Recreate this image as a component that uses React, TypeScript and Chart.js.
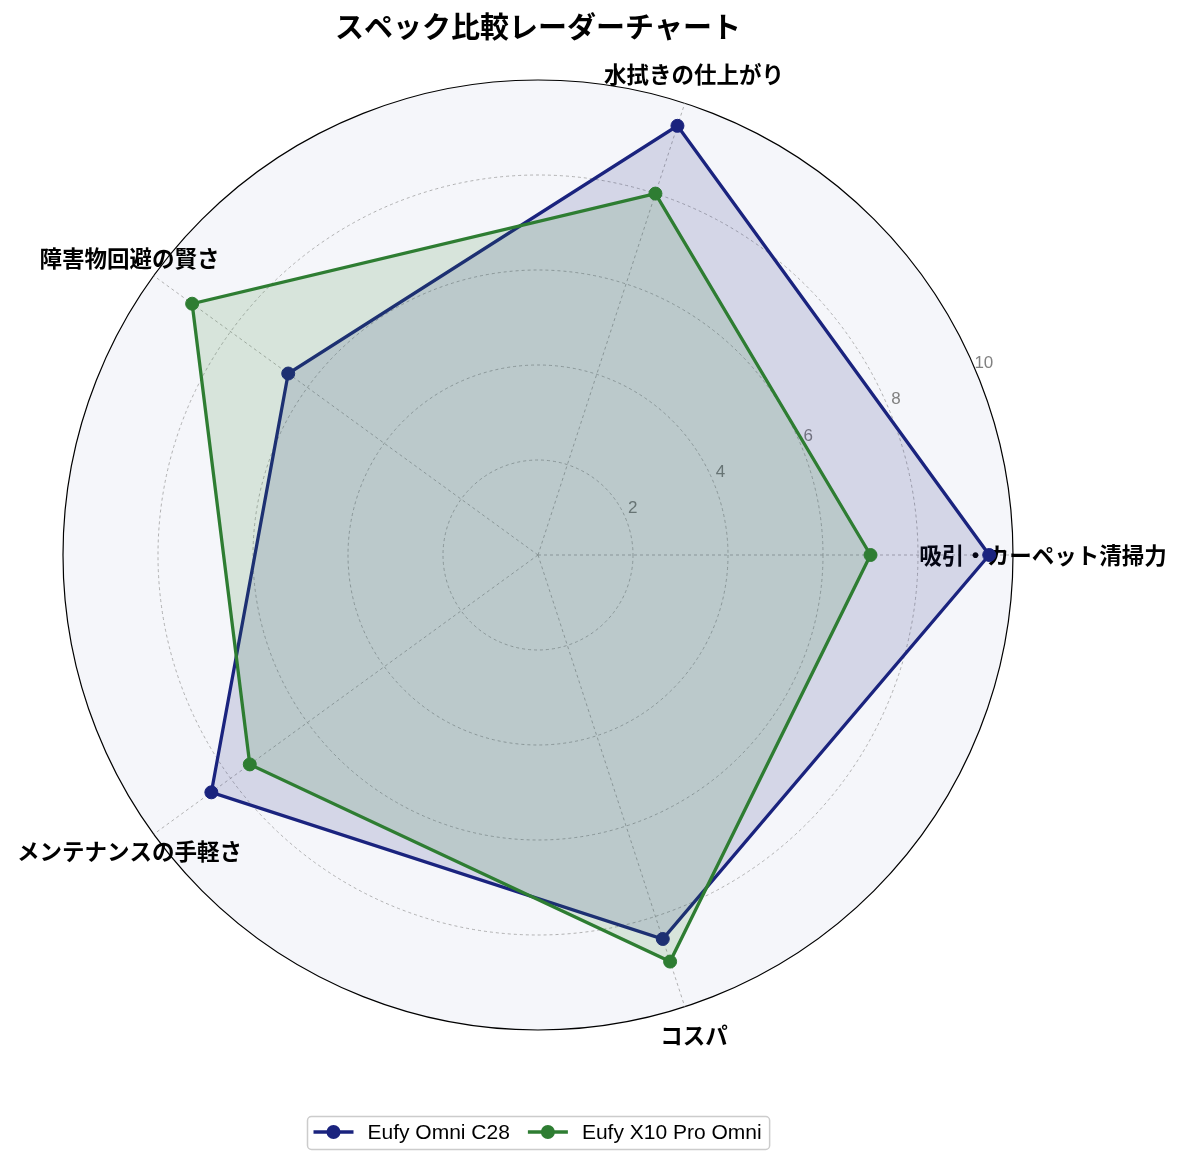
import React, { useEffect, useRef } from "react";
import { Chart, registerables } from "chart.js";

Chart.register(...registerables);

const TITLE = "スペック比較レーダーチャート";
// Categories in counter-clockwise order starting from the right (0°)
const categories = [
  "吸引・カーペット清掃力",
  "水拭きの仕上がり",
  "障害物回避の賢さ",
  "メンテナンスの手軽さ",
  "コスパ",
];
const seriesNames = ["Eufy Omni C28", "Eufy X10 Pro Omni"];
const c28Values = [9.5, 9.5, 6.5, 8.5, 8.5];
const x10Values = [7.0, 8.0, 9.0, 7.5, 9.0];
const seriesColors = ["#1a237e", "#2e7d32"];
const seriesFills = ["rgba(26,35,126,0.15)", "rgba(46,125,50,0.15)"];
const tickValues = [2, 4, 6, 8, 10];

const JP_FONT = '"Noto Sans CJK JP", "Noto Sans", sans-serif';
const LATIN_FONT = '"Liberation Sans", Arial, "Noto Sans CJK JP", sans-serif';

// Chart.js radar goes clockwise; reorder so visual order is counter-clockwise
const order = [0, 4, 3, 2, 1];
const reorder = <T,>(arr: T[]) => order.map((i) => arr[i]);

const decorPlugin = {
  id: "decor",
  beforeDraw(chart: any) {
    const s = chart.scales.r;
    const ctx = chart.ctx;
    ctx.save();
    ctx.fillStyle = "#ffffff";
    ctx.fillRect(0, 0, chart.width, chart.height);
    ctx.beginPath();
    ctx.arc(s.xCenter, s.yCenter, s.drawingArea, 0, Math.PI * 2);
    ctx.fillStyle = "#f5f6fa";
    ctx.fill();
    ctx.restore();
  },
  beforeDatasetsDraw(chart: any) {
    const s = chart.scales.r;
    const ctx = chart.ctx;
    ctx.save();
    // radial tick labels at 22.5°
    ctx.font = `17px ${LATIN_FONT}`;
    ctx.fillStyle = "#808080";
    ctx.textAlign = "center";
    ctx.textBaseline = "middle";
    const a = (22.5 * Math.PI) / 180;
    tickValues.forEach((v) => {
      const r = s.getDistanceFromCenterForValue(v);
      const x = s.xCenter + r * Math.cos(a) + 7;
      const y = s.yCenter - r * Math.sin(a) - 10;
      ctx.fillText(String(v), x, y);
    });
    // category labels
    ctx.font = `bold 22.5px ${JP_FONT}`;
    ctx.fillStyle = "#000000";
    const labels = chart.data.labels as string[];
    labels.forEach((lab, i) => {
      const p = s.getPointPosition(i, s.drawingArea + 30);
      ctx.fillText(lab, p.x, p.y);
    });
    ctx.restore();
  },
  afterDraw(chart: any) {
    const s = chart.scales.r;
    const ctx = chart.ctx;
    ctx.save();
    // title
    ctx.font = `bold 29px ${JP_FONT}`;
    ctx.fillStyle = "#000000";
    ctx.textAlign = "center";
    ctx.textBaseline = "middle";
    ctx.fillText(TITLE, s.xCenter, 27);

    // legend
    ctx.font = `21px ${LATIN_FONT}`;
    const lineLen = 40;
    const gapAfterLine = 14;
    const itemGap = 18;
    const padL = 6;
    const padR = 8;
    const widths = seriesNames.map((n) => ctx.measureText(n).width);
    const total =
      padL +
      padR +
      widths.reduce((acc, w) => acc + lineLen + gapAfterLine + w, 0) +
      itemGap * (seriesNames.length - 1);
    const boxH = 33;
    const cy = 1132;
    const left = Math.round(s.xCenter - total / 2) + 0.5;
    const top = Math.round(cy - boxH / 2) + 0.5;
    ctx.beginPath();
    if ((ctx as any).roundRect) {
      (ctx as any).roundRect(left, top, total, boxH, 4);
    } else {
      ctx.rect(left, top, total, boxH);
    }
    ctx.fillStyle = "rgba(255,255,255,0.8)";
    ctx.fill();
    ctx.strokeStyle = "#cccccc";
    ctx.lineWidth = 1.5;
    ctx.stroke();
    let x = left + padL;
    seriesNames.forEach((name, i) => {
      ctx.strokeStyle = seriesColors[i];
      ctx.lineWidth = 3.3;
      ctx.beginPath();
      ctx.moveTo(x, cy);
      ctx.lineTo(x + lineLen, cy);
      ctx.stroke();
      ctx.beginPath();
      ctx.arc(x + lineLen / 2, cy, 7, 0, Math.PI * 2);
      ctx.fillStyle = seriesColors[i];
      ctx.fill();
      x += lineLen + gapAfterLine;
      ctx.fillStyle = "#000000";
      ctx.textAlign = "left";
      ctx.fillText(name, x, cy + 1);
      x += widths[i] + itemGap;
    });
    ctx.restore();
  },
};

export default function App() {
  const ref = useRef<HTMLCanvasElement | null>(null);
  useEffect(() => {
    if (!ref.current) return;
    const chart = new Chart(ref.current, {
      type: "radar",
      data: {
        labels: reorder(categories),
        datasets: [
          {
            label: seriesNames[0],
            data: reorder(c28Values),
            borderColor: seriesColors[0],
            backgroundColor: seriesFills[0],
            pointBackgroundColor: seriesColors[0],
            pointBorderColor: seriesColors[0],
            borderWidth: 3.3,
            pointRadius: 6.5,
            pointBorderWidth: 1,
            fill: true,
            order: 1,
          },
          {
            label: seriesNames[1],
            data: reorder(x10Values),
            borderColor: seriesColors[1],
            backgroundColor: seriesFills[1],
            pointBackgroundColor: seriesColors[1],
            pointBorderColor: seriesColors[1],
            borderWidth: 3.3,
            pointRadius: 6.5,
            pointBorderWidth: 1,
            fill: true,
            order: 0,
          },
        ],
      },
      options: {
        responsive: false,
        animation: false,
        devicePixelRatio: 1,
        layout: { padding: { left: 63, right: 170, top: 80, bottom: 135 } },
        plugins: {
          legend: { display: false },
          title: { display: false },
          tooltip: { enabled: false },
        },
        elements: { line: { tension: 0 } },
        scales: {
          r: {
            min: 0,
            max: 10,
            startAngle: 90,
            ticks: { stepSize: 2, display: false },
            pointLabels: { display: false },
            grid: {
              circular: true,
              color: (c: any) => (c.tick && c.tick.value === 10 ? "#000000" : "#a0a0a0"),
              lineWidth: (c: any) => (c.tick && c.tick.value === 10 ? 1.2 : 0.8),
            },
            border: {
              dash: (c: any) => (c.tick && c.tick.value === 10 ? [] : [3, 3]),
            } as any,
            angleLines: {
              color: "#a0a0a0",
              lineWidth: 0.8,
              borderDash: [3, 3],
            },
          },
        },
      },
      plugins: [decorPlugin],
    });
    return () => chart.destroy();
  }, []);
  return (
    <div style={{ position: "absolute", left: 0, top: 0, width: 1183, height: 1165 }}>
      <canvas ref={ref} width={1183} height={1165} />
    </div>
  );
}
